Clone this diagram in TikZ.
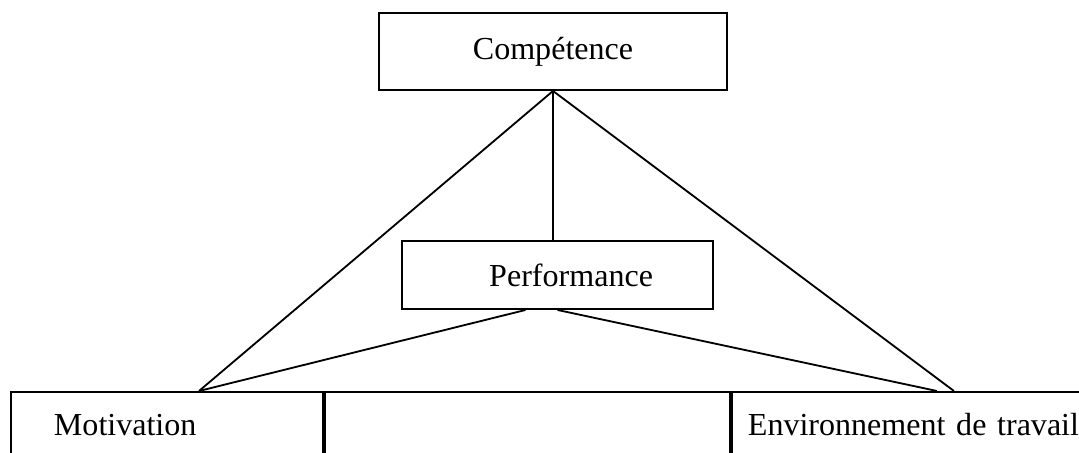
\documentclass[tikz,border=0pt]{standalone}
\usepackage{fontspec}
\setmainfont{Liberation Serif}
\usepackage{tikz}

\tikzset{
  box/.style={draw, rectangle, line width=1.4pt},
  basebox/.style={box, anchor=north west, align=left, text height=0.55cm, text depth=0.15cm, inner ysep=0.55cm}
}

\begin{document}
\begin{tikzpicture}[line width=1.3pt, font=\fontsize{22.8}{27}\selectfont]
  \useasboundingbox (0,0) rectangle (26.975,11.325);
  \clip (0,0) rectangle (26.975,11.325);

  % top and middle boxes
  \node[box, minimum width=8.7cm, minimum height=1.925cm] (comp) at (13.825,10.0375) {Compétence\hspace{0.8cm}};
  \node[box, minimum width=7.775cm, minimum height=1.7cm] (perf) at (13.9375,4.45) {\hspace{0.68cm}Performance};

  % bottom row (cut by the page edge)
  \node[basebox, inner xsep=1.075cm, text width=5.65cm] (mot) at (0.25,1.55) {Motivation};
  \node[basebox, inner xsep=0cm, text width=10.125cm] (mid) at (mot.north east) {};
  \node[basebox, inner xsep=0.4cm, text width=9.5cm] (env) at (mid.north east) {Environnement de travail};

  % connectors
  \draw (comp.south) -- (comp.south |- perf.north);
  \draw (comp.south) -- ([xshift=4.725cm]mot.north west);
  \draw (comp.south) -- ([xshift=5.575cm]env.north west);
  \draw ([xshift=-0.8cm]perf.south) -- ([xshift=4.725cm]mot.north west);
  \draw (perf.south) -- ([xshift=5.15cm]env.north west);
\end{tikzpicture}
\end{document}
